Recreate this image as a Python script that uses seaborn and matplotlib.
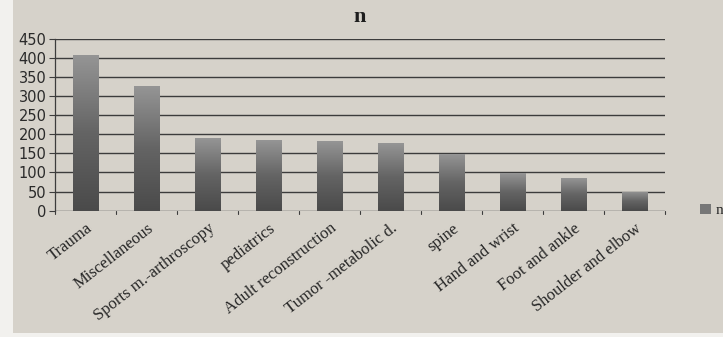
import numpy as np
import pandas as pd
import matplotlib
matplotlib.use("Agg")
import matplotlib.pyplot as plt
from matplotlib.patches import Rectangle
from matplotlib.colors import LinearSegmentedColormap
import seaborn as sns

categories = [
    "Trauma", "Miscellaneous", "Sports m.-arthroscopy", "pediatrics",
    "Adult reconstruction", "Tumor -metabolic d.", "spine",
    "Hand and wrist", "Foot and ankle", "Shoulder and elbow",
]
counts = [408, 327, 190, 184, 182, 178, 149, 99, 86, 50]
y_ticks = [0, 50, 100, 150, 200, 250, 300, 350, 400, 450]

df = pd.DataFrame({"category": categories, "n": counts})

paper = "#d6d2ca"
sns.set_theme(style="white")
plt.rcParams["font.family"] = ["DejaVu Sans"]

fig = plt.figure(figsize=(7.23, 3.37), dpi=100)
fig.patch.set_facecolor("#f2f1ee")
# paper sheet behind the chart
fig.patches.append(Rectangle((13 / 723, 4 / 337), 1.0, 1.0, transform=fig.transFigure,
                             facecolor=paper, edgecolor="none", zorder=-10))

ax = fig.add_axes([0.076, 0.375, 0.844, 0.51])
ax.set_facecolor(paper)

sns.barplot(data=df, x="category", y="n", ax=ax, color="#7a7a7a", width=0.42,
            saturation=1, zorder=3)

# vertical gray gradient inside each bar
cmap = LinearSegmentedColormap.from_list("bar", ["#4a4a4a", "#646464", "#959595"])
grad = np.linspace(0, 1, 256).reshape(-1, 1)
for p in list(ax.patches):
    x0, y0 = p.get_x(), p.get_y()
    w, h = p.get_width(), p.get_height()
    im = ax.imshow(grad, extent=[x0, x0 + w, y0, y0 + h], origin="lower",
                   cmap=cmap, aspect="auto", zorder=4)
    im.set_clip_path(p)
    p.set_facecolor("none")
    p.set_edgecolor("none")

ax.set_xlim(-0.5, len(categories) - 0.5)
ax.set_ylim(0, 450)
ax.set_yticks(y_ticks)
ax.set_yticklabels([str(t) for t in y_ticks], fontsize=10.5, color="#2a2a2a")
for t in y_ticks:
    ax.axhline(t, color="#3c3c3c", lw=1.0, zorder=1)

ax.set_xticks(range(len(categories)))
ax.set_xticklabels(categories, rotation=38, ha="right", rotation_mode="anchor",
                   fontsize=12, family="Liberation Serif", color="#262626")
ax.tick_params(axis="x", length=0, pad=7)
ax.tick_params(axis="y", length=4, width=0.8, color="#3c3c3c", left=True, pad=2)

# tick marks between categories below the axis
for b in np.arange(-0.5, len(categories), 1.0):
    ax.plot([b, b], [0, -8], color="#3c3c3c", lw=0.8, clip_on=False, zorder=2)

for side in ["top", "right", "bottom"]:
    ax.spines[side].set_visible(False)
ax.spines["left"].set_color("#3c3c3c")
ax.spines["left"].set_linewidth(0.9)

ax.set_xlabel("")
ax.set_ylabel("")
ax.set_title("n", fontsize=16, fontweight="bold", family="Liberation Serif",
             color="#1e1e1e", pad=12)

handle = Rectangle((0, 0), 1, 1, facecolor="#777777", edgecolor="none")
leg = ax.legend([handle], ["n"], loc="center left", bbox_to_anchor=(1.035, 0.0),
                frameon=False, handlelength=0.7, handleheight=0.7, handletextpad=0.3,
                prop={"family": "Liberation Serif", "size": 11})

fig.savefig("out.png", dpi=100, facecolor=fig.get_facecolor())
